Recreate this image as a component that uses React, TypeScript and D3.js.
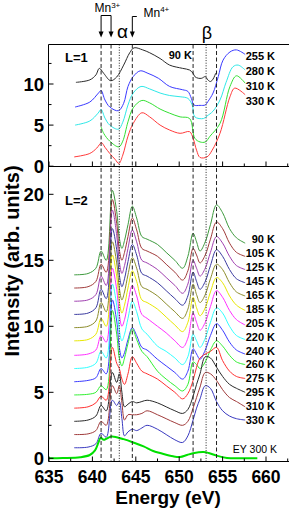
import React, { useEffect, useRef } from 'react';
import { select, scaleLinear, line, curveCatmullRom, range } from 'd3';

const width = 289;
const height = 511;

// ---- L=1 panel (upper), [energy eV, intensity]
const l1Labels = ['255 K', '280 K', '310 K', '330 K'];
const l1Curve90K = [[638.1, 10.2], [639.7, 10.5], [640.4, 11.1], [640.8, 11.9], [641.3, 11.3], [642.1, 10.4], [642.8, 10.85], [643.6, 12.3], [644.3, 13.8], [644.8, 14.4], [645.8, 14.15], [646.6, 13.8], [647.8, 13.1], [648.9, 12.3], [650.4, 11.9], [651.2, 11.7], [651.6, 11.3], [651.8, 10.9], [652.2, 10.7], [652.6, 10.7], [653.0, 10.9], [653.3, 10.5], [653.6, 10.3], [653.9, 10.6], [654.2, 11.3]];
const l1Curve255K = [[638.0, 7.2], [639.7, 7.8], [640.7, 8.9], [641.0, 9.2], [641.45, 8.05], [642.0, 7.2], [643.0, 6.75], [643.6, 7.65], [644.1, 9.7], [644.7, 10.9], [645.5, 11.6], [646.4, 11.3], [647.6, 10.7], [648.9, 9.7], [650.4, 9.3], [651.0, 9.1], [651.4, 8.25], [651.7, 7.45], [652.4, 7.4], [653.0, 7.45], [653.3, 7.85], [653.9, 8.9], [654.5, 10.9], [655.05, 12.9], [655.85, 13.9], [656.6, 14.15], [657.6, 13.6]];
const l1Curve280K = [[638.0, 5.0], [639.7, 5.5], [640.65, 6.45], [641.0, 6.9], [641.45, 5.85], [642.0, 5.0], [643.0, 4.5], [643.5, 5.35], [644.1, 7.45], [644.7, 8.9], [645.6, 9.7], [646.6, 9.4], [647.8, 8.9], [648.9, 8.6], [650.1, 8.45], [651.0, 8.25], [651.5, 7.45], [651.8, 6.0], [652.8, 5.8], [653.2, 6.1], [653.9, 6.7], [654.7, 8.05], [655.4, 10.2], [656.2, 12.1], [656.8, 12.3], [657.6, 11.7]];
const l1Curve310K = [[641.0, 4.8], [641.3, 4.0], [642.0, 3.05], [643.05, 2.35], [643.5, 3.05], [644.1, 5.4], [644.7, 7.1], [645.7, 8.0], [646.6, 7.7], [647.8, 6.95], [648.9, 6.45], [650.1, 6.0], [651.2, 5.8], [651.8, 3.4], [652.4, 2.95], [653.0, 2.95], [653.55, 3.65], [654.7, 5.2], [655.85, 9.7], [656.6, 11.0], [657.6, 10.1]];
const l1Curve330K = [[637.9, 1.13], [639.7, 1.55], [640.5, 2.2], [641.05, 2.85], [641.45, 2.3], [642.0, 1.55], [642.6, 0.85], [643.05, 0.33], [643.5, 1.35], [644.1, 3.65], [644.7, 5.2], [645.7, 6.5], [646.6, 6.0], [647.8, 5.0], [648.9, 4.4], [650.1, 4.0], [651.2, 4.2], [651.6, 3.4], [652.0, 1.95], [652.4, 1.06], [653.2, 1.13], [653.8, 1.95], [654.7, 4.0], [655.85, 8.45], [656.4, 9.5], [657.6, 8.7]];

// ---- L=2 panel (lower), shared energy grid
const l2Energy = [637.9, 639.5, 640.4, 641.0, 641.6, 642.3, 642.8, 643.1, 643.4, 643.7, 644.1, 644.6, 645.1, 645.7, 646.3, 647.5, 648.5, 649.5, 650.4, 651.0, 651.6, 652.0, 652.4, 653.0, 653.6, 654.3, 655.0, 655.8, 656.6, 657.6];
const l2Labels = ['90 K', '105 K', '125 K', '145 K', '165 K', '185 K', '205 K', '220 K', '240 K', '260 K', '275 K', '295 K', '310 K', '330 K'];
const l2Curve90K = [13.9, 14.0, 14.4, 15.7, 15.0, 20.3, 18.7, 16.7, 15.9, 16.5, 17.7, 19.1, 18.2, 16.8, 16.6, 16.2, 15.6, 15.0, 14.4, 15.3, 17.05, 16.4, 15.7, 16.4, 17.7, 19.2, 18.6, 17.4, 16.7, 16.3];
const l2Curve105K = [12.9, 13.0, 13.4, 14.7, 14.1, 19.6, 17.8, 15.8, 15.0, 15.6, 16.8, 18.2, 17.3, 15.9, 15.7, 15.3, 14.7, 14.1, 13.5, 14.2, 15.9, 15.4, 14.8, 15.4, 16.6, 17.9, 17.4, 16.3, 15.6, 15.3];
const l2Curve125K = [11.9, 12.0, 12.4, 13.8, 13.1, 18.8, 16.9, 14.9, 14.0, 14.6, 15.9, 17.3, 16.4, 15.0, 14.8, 14.3, 13.7, 13.1, 12.5, 13.2, 15.0, 14.4, 13.8, 14.4, 15.6, 16.8, 16.3, 15.3, 14.6, 14.3];
const l2Curve145K = [10.9, 11.0, 11.4, 12.8, 12.1, 17.4, 15.8, 13.9, 13.0, 13.6, 14.9, 16.2, 15.4, 14.0, 13.8, 13.3, 12.7, 12.1, 11.6, 12.3, 14.1, 13.4, 12.8, 13.4, 14.6, 15.8, 15.3, 14.3, 13.6, 13.3];
const l2Curve165K = [9.9, 10.0, 10.4, 11.8, 11.1, 16.4, 14.8, 12.9, 12.0, 12.6, 13.9, 15.2, 14.4, 13.0, 12.8, 12.3, 11.7, 11.1, 10.6, 11.3, 13.2, 12.4, 11.8, 12.4, 13.6, 14.7, 14.3, 13.3, 12.6, 12.3];
const l2Curve185K = [8.9, 9.0, 9.4, 10.6, 10.0, 15.4, 13.8, 11.9, 11.0, 11.6, 12.9, 14.2, 13.4, 12.0, 11.8, 11.3, 10.7, 10.1, 9.6, 10.3, 12.2, 11.4, 10.8, 11.4, 12.6, 13.7, 13.3, 12.3, 11.6, 11.2];
const l2Curve205K = [7.8, 7.9, 8.2, 9.3, 8.8, 14.4, 12.8, 10.9, 10.0, 10.5, 11.8, 13.1, 12.3, 10.9, 10.6, 10.0, 9.5, 8.9, 8.4, 9.1, 11.0, 10.3, 9.7, 10.3, 11.5, 12.7, 12.2, 11.2, 10.5, 10.1];
const l2Curve220K = [6.8, 6.9, 7.2, 8.1, 7.6, 13.2, 11.6, 9.7, 8.9, 9.4, 10.6, 11.9, 11.1, 9.8, 9.4, 8.5, 8.1, 7.6, 7.1, 7.7, 9.4, 8.9, 8.4, 9.1, 10.3, 11.4, 11.0, 10.0, 9.3, 9.0];
const l2Curve240K = [5.8, 5.9, 6.1, 6.8, 6.4, 12.0, 10.4, 8.4, 7.6, 8.0, 9.0, 9.9, 9.3, 8.4, 8.2, 7.5, 7.0, 6.5, 6.0, 6.6, 8.3, 7.9, 7.5, 8.2, 9.3, 10.2, 9.7, 8.8, 8.2, 7.9];
const l2Curve260K = [4.8, 4.85, 5.0, 5.5, 5.2, 11.2, 9.4, 7.6, 7.0, 7.6, 8.7, 9.8, 9.0, 8.1, 7.7, 6.6, 6.0, 5.5, 5.1, 5.6, 7.3, 7.1, 6.8, 7.3, 8.2, 8.9, 8.5, 7.8, 7.3, 7.1];
const l2Curve275K = [3.8, 3.9, 4.2, 4.7, 4.4, 8.4, 7.2, 6.8, 6.0, 5.6, 6.4, 7.7, 7.2, 6.6, 6.4, 6.0, 5.5, 5.0, 4.5, 4.9, 5.9, 6.9, 7.6, 7.9, 8.1, 8.4, 7.4, 6.6, 6.2, 6.05];
const l2Curve295K = [2.8, 2.9, 3.2, 4.0, 3.6, 6.5, 5.75, 6.4, 5.0, 3.9, 4.1, 4.3, 4.2, 4.3, 4.4, 4.2, 3.9, 3.6, 3.4, 3.7, 4.7, 5.6, 6.4, 7.7, 7.6, 6.9, 6.2, 5.6, 5.3, 5.0];
const l2Curve310K = [1.8, 1.85, 2.1, 2.8, 2.5, 5.5, 4.9, 5.5, 4.2, 2.9, 3.3, 3.3, 3.3, 3.4, 3.6, 3.3, 3.0, 2.7, 2.5, 2.8, 3.8, 4.6, 5.4, 6.5, 6.4, 5.9, 5.2, 4.6, 4.3, 3.9];
const l2Curve330K = [0.8, 0.85, 1.1, 1.9, 1.6, 4.4, 4.0, 4.3, 3.0, 1.7, 2.0, 2.2, 2.1, 2.3, 2.5, 2.2, 1.8, 1.4, 1.2, 1.7, 2.9, 3.8, 4.5, 5.5, 5.3, 4.3, 3.6, 3.2, 3.0, 2.9];

// electron yield reference at 300 K
const eyEnergy = [635.0, 636.6, 638.6, 639.7, 640.3, 640.7, 640.95, 641.3, 641.65, 642.2, 642.8, 643.6, 644.7, 645.9, 647.0, 647.8, 649.3, 650.1, 650.9, 651.6, 652.8, 653.4, 654.3, 655.5, 657.0, 659.0];
const eyValues = [0.0, 0.02, 0.08, 0.25, 0.6, 1.2, 1.55, 1.4, 1.5, 1.65, 1.6, 1.45, 1.2, 0.9, 0.55, 0.4, 0.15, 0.1, 0.25, 0.38, 0.47, 0.4, 0.2, 0.03, 0.0, 0.0];

// reference lines (eV)
const dashedLines = [641.0, 642.15, 644.6, 651.6, 654.3];
const dottedLines = [643.1, 653.1];

const xTicks = [635, 640, 645, 650, 655, 660];
const l1Ticks = [0, 5, 10];
const l2Ticks = [0, 5, 10, 15, 20];

const FONT = 'Liberation Sans, Arial, Helvetica, sans-serif';

const App = () => {
  const svgRef = useRef(null);

  useEffect(() => {
    const svg = select(svgRef.current);
    svg.selectAll('*').remove();

    const left = 48.5;
    const top = 44.5;
    const mid = 166.5;
    const bottom = 461.5;

    const x = scaleLinear().domain([635, 660]).range([49, 266]);
    const yTop = scaleLinear().domain([0, 10]).range([166.2, 84]);
    const yBot = scaleLinear().domain([0, 20]).range([458.3, 194.3]);

    // clip each panel
    const defs = svg.append('defs');
    defs.append('clipPath').attr('id', 'clip-top')
      .append('rect').attr('x', left).attr('y', top).attr('width', width).attr('height', mid - top);
    defs.append('clipPath').attr('id', 'clip-bot')
      .append('rect').attr('x', left).attr('y', mid).attr('width', width).attr('height', bottom - mid);

    const l1Series = [
      { data: l1Curve90K, color: '#2a2a2a' },
      { data: l1Curve255K, color: '#3a3aff' },
      { data: l1Curve280K, color: '#2ee8e8' },
      { data: l1Curve310K, color: '#33e033' },
      { data: l1Curve330K, color: '#ff3a3a' }
    ];

    const l2Series = [
      { data: l2Curve90K, color: '#3d9a3d' },
      { data: l2Curve105K, color: '#a03a3a' },
      { data: l2Curve125K, color: '#a040b0' },
      { data: l2Curve145K, color: '#3a3aa0' },
      { data: l2Curve165K, color: '#8c8c2a' },
      { data: l2Curve185K, color: '#e8e800' },
      { data: l2Curve205K, color: '#ff30ff' },
      { data: l2Curve220K, color: '#30ffff' },
      { data: l2Curve240K, color: '#3a3aff' },
      { data: l2Curve260K, color: '#30f030' },
      { data: l2Curve275K, color: '#ff3030' },
      { data: l2Curve295K, color: '#2a2a2a' },
      { data: l2Curve310K, color: '#a03a3a' },
      { data: l2Curve330K, color: '#3a3ac0' }
    ];

    const topLine = line().x(d => x(d[0])).y(d => yTop(d[1])).curve(curveCatmullRom.alpha(0.5));
    const botLine = line().x(d => x(d[0])).y(d => yBot(d[1])).curve(curveCatmullRom.alpha(0.5));

    const gTop = svg.append('g').attr('clip-path', 'url(#clip-top)');
    l1Series.forEach(s => {
      gTop.append('path')
        .attr('d', topLine(s.data))
        .attr('fill', 'none')
        .attr('stroke', s.color)
        .attr('stroke-width', 1);
    });

    const gBot = svg.append('g').attr('clip-path', 'url(#clip-bot)');
    l2Series.forEach(s => {
      const pts = l2Energy.map((e, i) => [e, s.data[i]]);
      gBot.append('path')
        .attr('d', botLine(pts))
        .attr('fill', 'none')
        .attr('stroke', s.color)
        .attr('stroke-width', 1);
    });

    gBot.append('path')
      .attr('d', botLine(eyEnergy.map((e, i) => [e, eyValues[i]])))
      .attr('fill', 'none')
      .attr('stroke', '#00e000')
      .attr('stroke-width', 2);

    // vertical guide lines across both panels
    dashedLines.forEach(e => {
      svg.append('line')
        .attr('x1', x(e)).attr('x2', x(e))
        .attr('y1', top).attr('y2', bottom)
        .attr('stroke', '#222').attr('stroke-width', 1)
        .attr('stroke-dasharray', '4,2.5');
    });
    dottedLines.forEach(e => {
      svg.append('line')
        .attr('x1', x(e)).attr('x2', x(e))
        .attr('y1', top).attr('y2', bottom)
        .attr('stroke', '#222').attr('stroke-width', 1)
        .attr('stroke-dasharray', '1,1.6');
    });

    // frame
    const frame = svg.append('g').attr('stroke', '#000').attr('stroke-width', 1).attr('fill', 'none');
    frame.append('line').attr('x1', left).attr('x2', left).attr('y1', top).attr('y2', bottom);
    frame.append('line').attr('x1', left).attr('x2', width + 2).attr('y1', top).attr('y2', top);
    frame.append('line').attr('x1', left).attr('x2', width + 2).attr('y1', mid).attr('y2', mid);
    frame.append('line').attr('x1', left).attr('x2', width + 2).attr('y1', bottom).attr('y2', bottom);

    // x ticks (inward) on both panel bottoms
    const xMinor = range(637.5, 662.6, 5);
    [mid, bottom].forEach(yb => {
      xTicks.forEach(t => frame.append('line').attr('x1', x(t)).attr('x2', x(t)).attr('y1', yb).attr('y2', yb - 5));
      xMinor.forEach(t => frame.append('line').attr('x1', x(t)).attr('x2', x(t)).attr('y1', yb).attr('y2', yb - 3));
    });

    // y ticks (inward)
    const yTick = (y, len) => frame.append('line').attr('x1', left).attr('x2', left + len).attr('y1', y).attr('y2', y);
    l1Ticks.forEach(t => yTick(yTop(t), 5));
    [2.5, 7.5, 12.5].forEach(t => yTick(yTop(t), 3));
    l2Ticks.forEach(t => yTick(yBot(t), 5));
    [2.5, 7.5, 12.5, 17.5].forEach(t => yTick(yBot(t), 3));

    const text = (tx, ty, str, size, weight, anchor) => svg.append('text')
      .attr('x', tx).attr('y', ty)
      .attr('font-family', FONT)
      .attr('font-size', size)
      .attr('font-weight', weight)
      .attr('text-anchor', anchor)
      .attr('fill', '#000')
      .text(str);

    // tick labels
    xTicks.forEach(t => text(x(t), 483, String(t), 17.5, 'bold', 'middle'));
    l1Ticks.forEach(t => text(44, yTop(t) + 6.5, String(t), 18.5, 'bold', 'end'));
    l2Ticks.forEach(t => text(44, yBot(t) + 6.5, String(t), 18.5, 'bold', 'end'));

    // axis titles
    text(168, 504, 'Energy (eV)', 19, 'bold', 'middle');
    svg.append('text')
      .attr('transform', 'translate(18.5,261) rotate(-90)')
      .attr('font-family', FONT)
      .attr('font-size', 20)
      .attr('font-weight', 'bold')
      .attr('text-anchor', 'middle')
      .text('Intensity (arb. units)');

    // panel labels
    text(65, 62, 'L=1', 13, 'bold', 'start');
    text(65, 205, 'L=2', 13, 'bold', 'start');
    text(192, 59.3, '90 K', 11, 'bold', 'end');
    l1Labels.forEach((lab, i) => text(275, 60 + i * 15, lab, 11, 'bold', 'end'));
    l2Labels.forEach((lab, i) => text(275, 243.3 + i * 13.9, lab, 11, 'bold', 'end'));
    text(277, 452.7, 'EY 300 K', 10.5, 'normal', 'end');

    // Mn3+ / Mn4+ markers
    const ann = svg.append('g').attr('stroke', '#000').attr('stroke-width', 1).attr('fill', 'none');
    const xa = x(dashedLines[0]);
    const xb = x(dashedLines[1]);
    const xc = x(dashedLines[2]);
    ann.append('path').attr('d', `M${xa},33 V15.5 H${xb} V33`);
    ann.append('path').attr('d', `M${xc},33 V16.5 H${xc + 4.5}`);
    [xa, xb, xc].forEach(ax => {
      svg.append('path')
        .attr('d', `M${ax - 2.5},31.5 L${ax + 2.5},31.5 L${ax},37.5 Z`)
        .attr('fill', '#000');
    });

    const mn3 = svg.append('text').attr('x', 94.5).attr('y', 12)
      .attr('font-family', FONT).attr('font-size', 12);
    mn3.append('tspan').text('Mn');
    mn3.append('tspan').attr('font-size', 8).attr('dy', -4.5).text('3+');

    const mn4 = svg.append('text').attr('x', 143.5).attr('y', 16.5)
      .attr('font-family', FONT).attr('font-size', 12);
    mn4.append('tspan').text('Mn');
    mn4.append('tspan').attr('font-size', 8).attr('dy', -4.5).text('4+');

    text(122.5, 38, 'α', 19, 'normal', 'middle');
    text(207, 38.5, 'β', 18, 'normal', 'middle');
  }, []);

  return (
    <svg
      ref={svgRef}
      width={width}
      height={height}
      style={{ position: 'absolute', left: 0, top: 0, background: '#fff' }}
    />
  );
};

export default App;
